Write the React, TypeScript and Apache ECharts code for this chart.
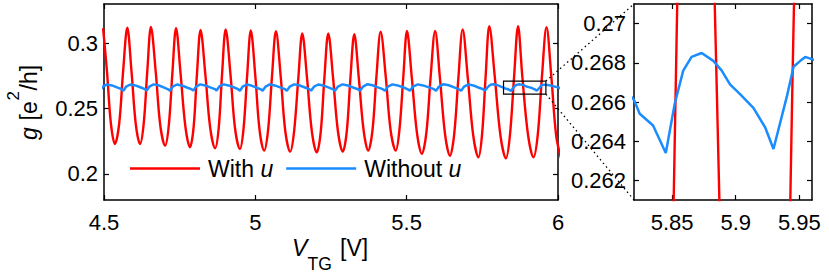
import React, { useEffect, useRef } from "react";
import * as echarts from "echarts";

// ---- data ----
// "With u" (red): gate voltage V_TG [V] and conductance g [e^2/h]
const redV = [
  4.497,
  4.510, 4.523, 4.536,
  4.550, 4.563, 4.577,
  4.591, 4.605, 4.619,
  4.631, 4.643, 4.655,
  4.671, 4.686, 4.702,
  4.714, 4.726, 4.738,
  4.753, 4.769, 4.784,
  4.796, 4.807, 4.819,
  4.835, 4.851, 4.867,
  4.879, 4.890, 4.902,
  4.918, 4.933, 4.949,
  4.961, 4.973, 4.985,
  5.000, 5.014, 5.029,
  5.042, 5.055, 5.068,
  5.084, 5.099, 5.115,
  5.128, 5.142, 5.155,
  5.171, 5.187, 5.203,
  5.216, 5.228, 5.241,
  5.257, 5.273, 5.289,
  5.302, 5.314, 5.327,
  5.342, 5.358, 5.373,
  5.387, 5.400, 5.414,
  5.431, 5.447, 5.464,
  5.476, 5.489, 5.501,
  5.517, 5.534, 5.550,
  5.565, 5.579, 5.594,
  5.610, 5.627, 5.643,
  5.657, 5.671, 5.685,
  5.702, 5.720, 5.737,
  5.749, 5.761, 5.773,
  5.791, 5.810, 5.828,
  5.841, 5.855, 5.868,
  5.882, 5.901, 5.919,
  5.933, 5.947, 5.962,
  5.978, 5.994, 6.010,
];
const redG = [
  0.3115,
  0.2778, 0.2380, 0.2229,
  0.2380, 0.2780, 0.3118,
  0.2780, 0.2380, 0.2229,
  0.2381, 0.2784, 0.3124,
  0.2779, 0.2370, 0.2216,
  0.2369, 0.2773, 0.3114,
  0.2768, 0.2359, 0.2204,
  0.2356, 0.2760, 0.3101,
  0.2757, 0.2350, 0.2196,
  0.2351, 0.2760, 0.3106,
  0.2758, 0.2347, 0.2191,
  0.2345, 0.2753, 0.3098,
  0.2748, 0.2334, 0.2178,
  0.2333, 0.2744, 0.3091,
  0.2741, 0.2327, 0.2170,
  0.2324, 0.2731, 0.3075,
  0.2729, 0.2320, 0.2165,
  0.2320, 0.2729, 0.3075,
  0.2731, 0.2324, 0.2170,
  0.2323, 0.2727, 0.3068,
  0.2730, 0.2329, 0.2178,
  0.2333, 0.2742, 0.3088,
  0.2742, 0.2333, 0.2178,
  0.2334, 0.2745, 0.3093,
  0.2736, 0.2313, 0.2153,
  0.2313, 0.2736, 0.3093,
  0.2730, 0.2301, 0.2139,
  0.2303, 0.2739, 0.3106,
  0.2734, 0.2293, 0.2127,
  0.2298, 0.2749, 0.3131,
  0.2746, 0.2291, 0.2119,
  0.2291, 0.2746, 0.3131,
  0.2749, 0.2298, 0.2127,
  0.2296, 0.2745, 0.3123,
  0.2742, 0.2291, 0.2120,
];

// "Without u" (blue)
const blueV = [
  4.487, 4.496, 4.510, 4.526, 4.545, 4.558,
  4.564, 4.573, 4.587, 4.603, 4.622, 4.635,
  4.641, 4.650, 4.664, 4.680, 4.699, 4.712,
  4.718, 4.727, 4.741, 4.757, 4.776, 4.789,
  4.795, 4.804, 4.818, 4.834, 4.853, 4.866,
  4.872, 4.881, 4.895, 4.911, 4.930, 4.943,
  4.949, 4.958, 4.972, 4.987, 5.005, 5.018,
  5.024, 5.034, 5.048, 5.064, 5.084, 5.098,
  5.104, 5.114, 5.128, 5.144, 5.164, 5.178,
  5.184, 5.194, 5.208, 5.224, 5.243, 5.257,
  5.263, 5.273, 5.288, 5.305, 5.325, 5.339,
  5.346, 5.356, 5.371, 5.387, 5.407, 5.421,
  5.428, 5.438, 5.453, 5.470, 5.490, 5.504,
  5.511, 5.521, 5.537, 5.554, 5.576, 5.590,
  5.597, 5.607, 5.622, 5.639, 5.659, 5.673,
  5.680, 5.690, 5.704, 5.720, 5.739, 5.753,
  5.759, 5.766, 5.773, 5.780, 5.788, 5.797, 5.804, 5.811, 5.820, 5.8245, 5.835,
  5.845, 5.852, 5.8587, 5.8653, 5.8732, 5.8824, 5.889, 5.8955, 5.9034, 5.9139, 5.9232,
  5.9297, 5.9403, 5.9455, 5.9508, 5.9547, 5.9592, 5.965, 5.975, 5.985, 6.000, 6.010,
];
const blueG = [
  0.2637, 0.2668, 0.2685, 0.2677, 0.2660, 0.2648,
  0.2636, 0.2667, 0.2684, 0.2677, 0.2661, 0.2649,
  0.2638, 0.2668, 0.2685, 0.2678, 0.2660, 0.2647,
  0.2636, 0.2667, 0.2684, 0.2676, 0.2659, 0.2648,
  0.2637, 0.2668, 0.2685, 0.2677, 0.2660, 0.2649,
  0.2638, 0.2669, 0.2685, 0.2677, 0.2661, 0.2648,
  0.2636, 0.2667, 0.2684, 0.2676, 0.2659, 0.2647,
  0.2637, 0.2668, 0.2685, 0.2677, 0.2660, 0.2648,
  0.2636, 0.2668, 0.2685, 0.2678, 0.2661, 0.2648,
  0.2637, 0.2667, 0.2684, 0.2677, 0.2660, 0.2647,
  0.2636, 0.2668, 0.2685, 0.2677, 0.2659, 0.2648,
  0.2637, 0.2668, 0.2686, 0.2678, 0.2660, 0.2648,
  0.2636, 0.2667, 0.2685, 0.2677, 0.2661, 0.2647,
  0.2637, 0.2668, 0.2685, 0.2677, 0.2660, 0.2648,
  0.2636, 0.2668, 0.2686, 0.2678, 0.2660, 0.2647,
  0.2637, 0.2668, 0.2685, 0.2677, 0.2659, 0.2648,
  0.2637, 0.2659, 0.2676, 0.2684, 0.2685, 0.2681, 0.2675, 0.2668, 0.2661, 0.2654, 0.2648,
  0.2634, 0.2659, 0.2676, 0.2683, 0.2685, 0.2681, 0.2676, 0.2669, 0.2664, 0.2657, 0.2647,
  0.2636, 0.2663, 0.2678, 0.2681, 0.2683, 0.2682, 0.2681, 0.2676, 0.2670, 0.2662, 0.2652,
];

const seriesNames = ["With u", "Without u"];

// axis ranges and ticks
const mainXRange = [4.5, 6];
const mainYRange = [0.18, 0.33];
const mainXTicks = [4.5, 5, 5.5, 6];
const mainYTicks = [0.2, 0.25, 0.3];
const zoomXRange = [5.82, 5.96];
const zoomYRange = [0.261, 0.271];
const zoomXTicks = [5.85, 5.9, 5.95];
const zoomYTicks = [0.262, 0.264, 0.266, 0.268, 0.27];

const RED = "#ff0000";
const BLUE = "#1a8cff";
const FONT = "'Liberation Sans', Arial, Helvetica, sans-serif";

export default function App() {
  const ref = useRef<HTMLDivElement>(null);

  useEffect(() => {
    const chart = echarts.init(ref.current!, null, { renderer: "svg" });
    const red = redV.map((v, i) => [v, redG[i]]);
    const blue = blueV.map((v, i) => [v, blueG[i]]);

    const axisLine = { show: true, onZero: false, lineStyle: { color: "#000", width: 1.5 } };
    const tick = (vals: number[]) => ({
      show: true,
      inside: true,
      length: 5,
      customValues: vals,
      lineStyle: { color: "#000", width: 1.2 },
    });
    const label = (vals: number[], show: boolean, margin: number) =>
      show
        ? { show: true, customValues: vals, color: "#000", fontSize: 22, fontFamily: FONT, margin }
        : { show: false };
    const mkAxis = (
      grid: number,
      position: string,
      range: number[],
      ticks: number[],
      showLabel: boolean,
      margin: number
    ) => ({
      type: "value",
      gridIndex: grid,
      position,
      min: range[0],
      max: range[1],
      axisLine,
      axisTick: tick(ticks),
      axisLabel: label(ticks, showLabel, margin),
      splitLine: { show: false },
    });

    const lineSeries = (
      name: string,
      data: number[][],
      axisIdx: number,
      color: string,
      width: number,
      smooth: number | boolean
    ) => ({
      name,
      type: "line",
      xAxisIndex: axisIdx,
      yAxisIndex: axisIdx,
      data,
      symbol: "none",
      showSymbol: false,
      smooth,
      clip: true,
      lineStyle: { color, width },
      itemStyle: { color },
      emphasis: { disabled: true },
    });

    chart.setOption({
      animation: false,
      grid: [
        { left: 104, top: 4, width: 454, height: 196 },
        { left: 634, top: 4, width: 178, height: 196 },
      ],
      xAxis: [
        mkAxis(0, "bottom", mainXRange, mainXTicks, true, 11),
        mkAxis(0, "top", mainXRange, mainXTicks, false, 0),
        mkAxis(1, "bottom", zoomXRange, zoomXTicks, true, 11),
        mkAxis(1, "top", zoomXRange, zoomXTicks, false, 0),
      ],
      yAxis: [
        mkAxis(0, "left", mainYRange, mainYTicks, true, 6),
        mkAxis(0, "right", mainYRange, mainYTicks, false, 0),
        mkAxis(1, "left", zoomYRange, zoomYTicks, true, 8),
        mkAxis(1, "right", zoomYRange, zoomYTicks, false, 0),
      ],
      legend: {
        data: seriesNames.map((name) => ({ name, icon: "rect" })),
        left: 130,
        top: 157,
        padding: 0,
        itemWidth: 70,
        itemHeight: 2.4,
        itemGap: 13,
        selectedMode: false,
        formatter: (name: string) => name.replace(/u$/, "{i|u}"),
        textStyle: {
          color: "#000",
          fontSize: 23,
          fontFamily: FONT,
          padding: [0, 0, 0, 3],
          rich: { i: { fontStyle: "italic", fontSize: 23, fontFamily: FONT, color: "#000" } },
        },
      },
      series: [
        lineSeries(seriesNames[0], red, 0, RED, 2.4, 0.35),
        lineSeries(seriesNames[1], blue, 0, BLUE, 2.5, false),
        lineSeries(seriesNames[0], red, 2, RED, 2.4, 0.35),
        lineSeries(seriesNames[1], blue, 2, BLUE, 2.5, false),
      ],
    });

    // inset box + connector lines, from data coordinates
    const tl = chart.convertToPixel({ seriesIndex: 0 }, [zoomXRange[0], zoomYRange[1]]) as number[];
    const br = chart.convertToPixel({ seriesIndex: 0 }, [zoomXRange[1], zoomYRange[0]]) as number[];
    const zTop = chart.convertToPixel({ seriesIndex: 2 }, [zoomXRange[0], zoomYRange[1]]) as number[];
    const zBot = chart.convertToPixel({ seriesIndex: 2 }, [zoomXRange[0], zoomYRange[0]]) as number[];
    const dotted = { stroke: "#000", lineWidth: 1.3, lineDash: [1.5, 3.2] };
    const txt = (text: string, size: number, italic = false) => ({
      text,
      font: `${italic ? "italic " : ""}${size}px ${FONT}`,
      fill: "#000",
      align: "left",
      verticalAlign: "middle",
    });

    chart.setOption({
      graphic: [
        {
          type: "rect",
          shape: { x: tl[0], y: tl[1], width: br[0] - tl[0], height: br[1] - tl[1] },
          style: { fill: "none", stroke: "#000", lineWidth: 1.2 },
          z: 100,
        },
        { type: "line", shape: { x1: br[0], y1: tl[1], x2: zTop[0], y2: zTop[1] }, style: dotted, z: 100 },
        { type: "line", shape: { x1: br[0], y1: br[1], x2: zBot[0], y2: zBot[1] }, style: dotted, z: 100 },
        // x axis title: V_TG [V]
        { type: "text", x: 292, y: 247.7, style: txt("V", 23, true) },
        { type: "text", x: 307.5, y: 263.5, style: txt("TG", 17.5) },
        { type: "text", x: 340, y: 247.7, style: txt("[V]", 23) },
        // y axis title: g [e^2/h]
        {
          type: "group",
          x: 31,
          y: 102,
          rotation: Math.PI / 2,
          children: [
            { type: "text", x: -38, y: -2, style: txt("g", 23, true) },
            { type: "text", x: -18.5, y: -2, style: txt("[", 23) },
            { type: "text", x: -12, y: -2, style: txt("e", 23) },
            { type: "text", x: 1.5, y: -18, style: txt("2", 17) },
            { type: "text", x: 11.5, y: -2, style: txt("/h]", 23) },
          ],
        },
      ],
    });

    return () => chart.dispose();
  }, []);

  return (
    <div
      ref={ref}
      style={{ position: "fixed", left: 0, top: 0, width: 829, height: 280, background: "#fff" }}
    />
  );
}
